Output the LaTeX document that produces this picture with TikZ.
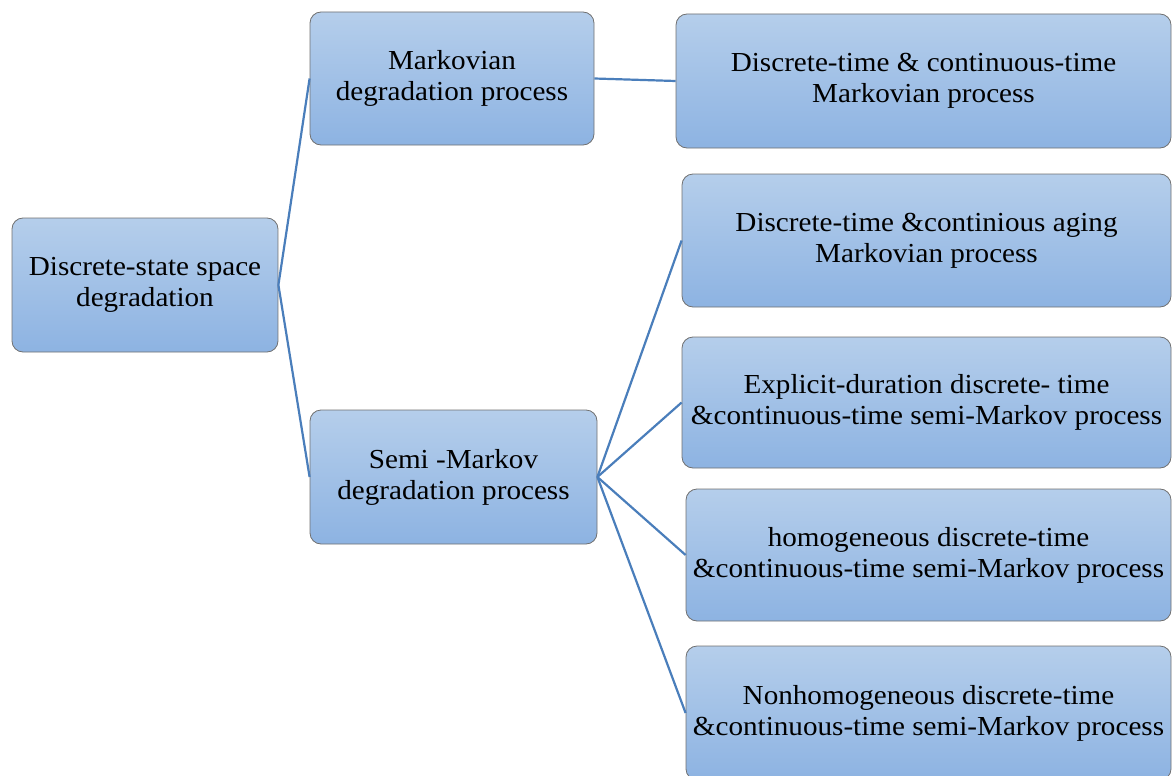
\documentclass[tikz,border=0pt]{standalone}
\usepackage{fontspec}
\setmainfont{Liberation Serif}[FakeStretch=1.06]
\usetikzlibrary{positioning}
\definecolor{boxtop}{HTML}{B5CEEB}
\definecolor{boxbot}{HTML}{8DB3E2}
\definecolor{boxline}{HTML}{707070}
\definecolor{linkblue}{HTML}{4A7EBB}
\tikzset{
x=1pt, y=-1pt,
procbox/.style={rectangle, rounded corners=11pt, draw=boxline, line width=0.8pt,
  top color=boxtop, bottom color=boxbot, align=center, inner sep=0pt,
  font=\fontsize{27.5}{31}\selectfont},
link/.style={draw=linkblue, line width=2.2pt},
}

\begin{document}
\begin{tikzpicture}
        \useasboundingbox (0,0) rectangle (1173,776);
        \node[procbox, minimum width=266pt, minimum height=134pt] (root) at (145,285) {Discrete-state space\\degradation};
        \node[procbox, minimum width=284pt, minimum height=133pt] (markov) at (452,78.5) {Markovian\\degradation process};
        \node[procbox, minimum width=287pt, minimum height=134pt] (semi) at (453.5,477) {Semi -Markov\\degradation process};

        \node[procbox, minimum width=495pt, minimum height=134pt] (mdt) at (923.5,81) {Discrete-time \& continuous-time\\Markovian process};
        \node[procbox, minimum width=489pt, minimum height=133pt] (aging) at (926.5,240.5) {Discrete-time \&continious aging\\Markovian process};
        \node[procbox, minimum width=489pt, minimum height=131pt] (expl) at (926.5,402.5) {Explicit-duration discrete- time\\\&continuous-time semi-Markov process};
        \node[procbox, minimum width=485pt, minimum height=132pt] (homog) at (928.5,555) {homogeneous discrete-time\\\&continuous-time semi-Markov process};
        \node[procbox, minimum width=485pt, minimum height=134pt] (nonhomog) at (928.5,713) {Nonhomogeneous discrete-time\\\&continuous-time semi-Markov process};

        \draw[link] (root.east) -- (markov.west);
        \draw[link] (root.east) -- (semi.west);
        \draw[link] (markov.east) -- (mdt.west);
        \foreach \leaf in {aging, expl, homog, nonhomog}
            \draw[link] (semi.east) -- (\leaf.west);
    \end{tikzpicture}
\end{document}
